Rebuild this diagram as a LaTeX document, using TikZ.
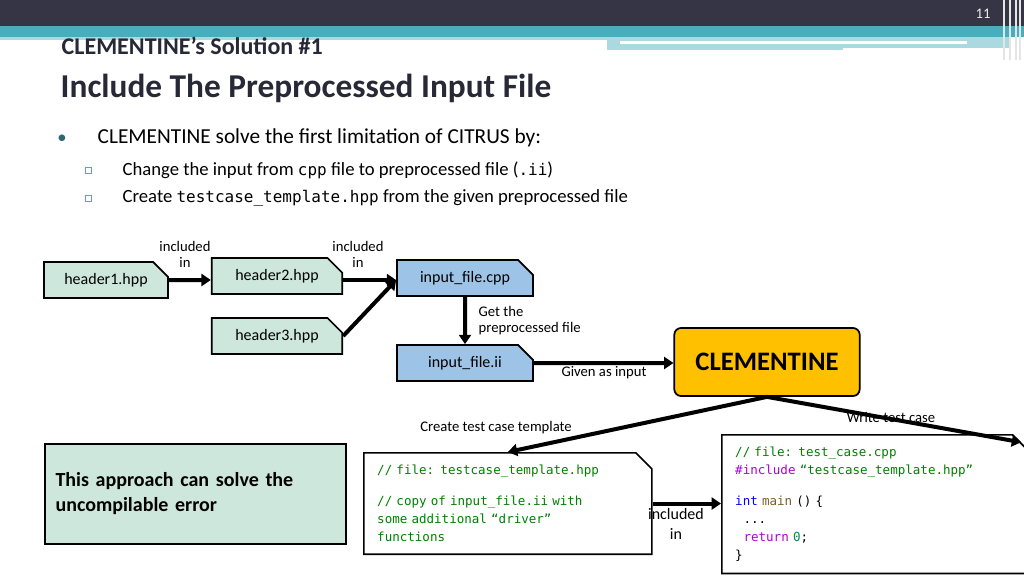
\documentclass[tikz,border=0pt]{standalone}
\usepackage{fontspec}
\setmainfont{Carlito}
\newfontfamily\codefont{DejaVu Sans Mono}
\usetikzlibrary{shapes.misc,arrows.meta}
\definecolor{barcol}{RGB}{54,53,69}
\definecolor{tealcol}{RGB}{75,172,190}
\definecolor{lighttl}{RGB}{170,218,224}
\definecolor{titlecol}{RGB}{40,40,55}
\definecolor{hdrfill}{RGB}{205,231,220}
\definecolor{cppfill}{RGB}{157,195,230}
\definecolor{clemfill}{RGB}{255,192,0}
\definecolor{cmt}{RGB}{0,128,0}
\definecolor{pre}{RGB}{175,0,219}
\definecolor{kw}{RGB}{0,0,255}
\definecolor{fn}{RGB}{121,94,38}
\definecolor{num}{RGB}{9,134,88}
\tikzset{
  filebox/.style={chamfered rectangle,chamfered rectangle corners=north east,
    chamfered rectangle xsep=6pt,chamfered rectangle ysep=6pt,draw,line width=1.3pt,
    inner sep=0pt,font=\fontsize{12}{14}\selectfont},
  codebox/.style={filebox,fill=white,align=left,text width=#1,inner xsep=4pt,
    font=\codefont\fontsize{9.4}{13.5}\selectfont},
  flow/.style={-{Triangle[length=7pt,width=9pt]},line width=3pt},
  lbl/.style={font=\fontsize{11}{12}\selectfont,align=center},
  subbullet/.style={draw=tealcol,line width=0.5pt,minimum size=4.5pt,inner sep=0pt}
}
\begin{document}
\begin{tikzpicture}[x=0.75pt,y=-0.75pt]
  \useasboundingbox (0,0) rectangle (1024,576);
  % header band
  \fill[barcol] (0,0) rectangle (1024,26);
  \fill[tealcol] (0,26) rectangle (1024,37);
  \fill[lighttl] (0,37) rectangle (607,40);
  \fill[lighttl] (607,37) rectangle (1010,50);
  \fill[white] (620,41) rectangle (967,44);
  \fill[white] (843,48) rectangle (1024,52);
  \foreach \xx in {1004,1010,1016,1020} \draw[white!80!gray,line width=0.8pt] (\xx,0) -- (\xx,60);
  \node[text=white!85!gray,font=\fontsize{11}{12}\selectfont] (pgnum) at (983,14) {11};
  \node[anchor=west,text=titlecol,font=\fontsize{18}{20}\bfseries\selectfont] (subtitle) at (57,46) {CLEMENTINE’s Solution \#1};
  \node[anchor=west,text=titlecol,font=\fontsize{25}{28}\bfseries\selectfont] (title) at (56,88) {Include The Preprocessed Input File};
  % bullets
  \node[text=tealcol!60!black,font=\fontsize{14}{16}\selectfont] (b0) at (62,139) {•};
  \node[anchor=west,font=\fontsize{16}{18}\selectfont] (t0) at (93,138) {CLEMENTINE solve the first limitation of CITRUS by:};
  \node[subbullet] (b1) at (88,170) {};
  \node[anchor=west,font=\fontsize{14}{16}\selectfont] (t1) at (118,170) {Change the input from {\codefont\fontsize{12}{14}\selectfont cpp} file to preprocessed file ({\codefont\fontsize{12}{14}\selectfont .ii})};
  \node[subbullet] (b2) at (88,198) {};
  \node[anchor=west,font=\fontsize{14}{16}\selectfont] (t2) at (118,198) {Create {\codefont\fontsize{12}{14}\selectfont testcase\_template.hpp} from the given preprocessed file};
  % file nodes
  \node[filebox,fill=hdrfill,minimum width=93pt,minimum height=27pt] (h1) at (106,280) {header1.hpp};
  \node[filebox,fill=hdrfill,minimum width=98pt,minimum height=27pt] (h2) at (277,276) {header2.hpp};
  \node[filebox,fill=hdrfill,minimum width=98pt,minimum height=27pt] (h3) at (277,336) {header3.hpp};
  \node[filebox,fill=cppfill,minimum width=102pt,minimum height=27pt] (cpp) at (465,278) {input\_file.cpp};
  \node[filebox,fill=cppfill,minimum width=102pt,minimum height=27pt] (ii) at (465,363) {input\_file.ii};
  \node[draw,line width=1.3pt,rounded corners=5pt,fill=clemfill,minimum width=139pt,minimum height=51pt,
    font=\fontsize{20}{22}\bfseries\selectfont] (clem) at (767,362) {CLEMENTINE};
  \node[draw,line width=1.3pt,fill=hdrfill,minimum width=226pt,minimum height=75pt,anchor=north west,
    text width=210pt,align=left,font=\fontsize{15}{19}\bfseries\selectfont] (note) at (44,443)
    {This approach can solve the\\uncompilable error};
  \node[codebox=196pt,minimum width=205pt,minimum height=76pt,anchor=north west] (tmpl) at (363,452)
    {\textcolor{cmt}{// file: testcase\_template.hpp}\\[10pt]\textcolor{cmt}{// copy of input\_file.ii with}\\\textcolor{cmt}{some additional “driver”}\\\textcolor{cmt}{functions}};
  \node[codebox=210pt,minimum width=217pt,minimum height=104pt,anchor=north west] (tcase) at (721,434)
    {\textcolor{cmt}{// file: test\_case.cpp}\\\textcolor{pre}{\#include} \textcolor{cmt}{“testcase\_template.hpp”}\\[10pt]\textcolor{kw}{int} \textcolor{fn}{main} () \{\\\ \ ...\\\ \ \textcolor{pre}{return} \textcolor{num}{0};\\\}};
  % connectors
  \draw[flow] (h1) -- (h2.west |- h1);
  \draw[flow] (h2.east |- h1) -- (cpp.west |- h1);
  \draw[flow] (h3.east) -- (cpp.west |- h1);
  \draw[flow] (cpp) -- (ii);
  \draw[flow] (ii) -- (clem.west |- ii);
  \draw[flow] (clem.south) -- (tmpl.north);
  \draw[flow] (clem.south) -- (tcase.north east);
  \draw[flow] (tmpl.east) -- (tcase.west |- tmpl.east);
  % labels
  \node[lbl] (l1) at (185,254) {included\\in};
  \node[lbl] (l2) at (358,254) {included\\in};
  \node[lbl,align=left,anchor=west] (l3) at (474,321) {Get the\\preprocessed file};
  \node[lbl] (l4) at (604,373) {Given as input};
  \node[lbl] (l5) at (496,428) {Create test case template};
  \node[lbl] (l6) at (891,417) {Write test case};
  \node[lbl,font=\fontsize{12}{15}\selectfont] (l7) at (676,524) {included\\in};
\end{tikzpicture}
\end{document}
